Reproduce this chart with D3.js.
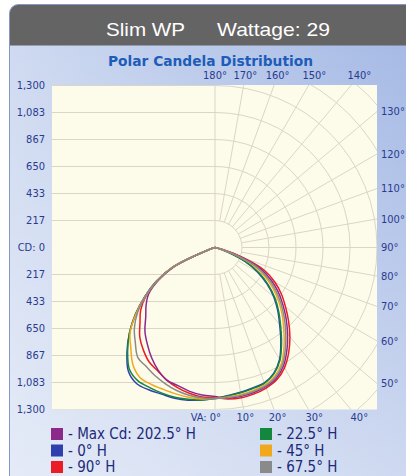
<!DOCTYPE html>
<html><head><meta charset="utf-8">
<script src="https://cdn.jsdelivr.net/npm/d3@7"></script>
<style>html,body{margin:0;padding:0;background:#fff;}svg{display:block}</style>
</head><body>
<svg id="chart" width="406" height="476"></svg>
<script>
// ---------------- DATA ----------------
const headerProduct = "Slim WP";
const headerWattage = "Wattage: 29";
const chartTitle = "Polar Candela Distribution";

// vertical angles (degrees from nadir) at which candela values are given
const VA = [0,5,10,15,20,25,30,35,40,45,50,55,60,65,70,75,80];

// candela values, left half (opposite horizontal plane) and right half
const maxCdLeft   = [1196,1188,1172,1148,1132,1083,1019,947,875,786,722,650,522,361,64,0,0];
const maxCdRight  = [1196,1213,1213,1205,1189,1159,1098,1006,906,807,710,618,518,401,210,55,0];
const h0Left      = [1212,1228,1244,1252,1252,1260,1260,1212,1099,971,835,690,546,377,64,0,0];
const h0Right     = [1212,1193,1180,1167,1156,1114,1036,921,807,711,615,509,395,265,108,20,0];
const h90Left     = [1204,1204,1188,1164,1132,1091,1059,1003,939,851,778,674,530,369,64,0,0];
const h90Right    = [1204,1220,1224,1216,1200,1172,1115,1031,935,835,738,650,554,441,241,64,0];
const h225Left    = [1212,1228,1236,1244,1244,1240,1236,1196,1091,971,827,682,546,377,64,0,0];
const h225Right   = [1212,1196,1184,1172,1160,1119,1043,931,819,722,626,522,409,281,120,24,0];
const h45Left     = [1212,1220,1220,1216,1212,1212,1204,1148,1051,963,827,682,538,377,64,0,0];
const h45Right    = [1212,1204,1198,1187,1174,1138,1069,966,859,762,665,567,460,337,163,38,0];
const h675Left    = [1212,1212,1204,1188,1164,1136,1103,1079,995,915,811,682,538,369,64,0,0];
const h675Right   = [1212,1209,1205,1196,1182,1148,1083,986,883,784,688,592,489,369,187,46,0];

const legendLabels = ["- Max Cd: 202.5° H","- 0° H","- 90° H","- 22.5° H","- 45° H","- 67.5° H"];

// axis ticks
const cdTickValues = [1300,1083,867,650,433,217,0,-217,-433,-650,-867,-1083,-1300];
const cdTickLabels = ["1,300","1,083","867","650","433","217","CD: 0","217","433","650","867","1,083","1,300"];
const topAngles = [180,170,160,150,140];
const rightAngles = [130,120,110,100,90,80,70,60,50];
const bottomAngles = [0,10,20,30,40];
const gridAngles = d3.range(10,180,10);
const ringValues = d3.range(1,10).map(k => k*1300/6);

// ---------------- LAYOUT / STYLE ----------------
const seriesColors = ["#8c2a8c","#2f40ad","#ec1c24","#13873e","#f2a81d","#8a8a8a"];
const W = 406, H = 476;
const cx = 215, cy = 247.5, R = 162;
const plot = {x0:52, x1:377, y0:85, y1:409.5};
const labelFont = "'DejaVu Sans Condensed','DejaVu Sans',sans-serif";
const axisColor = "#2a3a8e";

const svg = d3.select("#chart");
const defs = svg.append("defs");

const g1 = defs.append("linearGradient").attr("id","panelH").attr("x1",0).attr("y1",0).attr("x2",1).attr("y2",0);
g1.append("stop").attr("offset","0%").attr("stop-color","#d0dbf1");
g1.append("stop").attr("offset","100%").attr("stop-color","#a6bae5");
const g2 = defs.append("linearGradient").attr("id","panelV").attr("x1",0).attr("y1",0).attr("x2",0).attr("y2",1);
g2.append("stop").attr("offset","0%").attr("stop-color","#ffffff").attr("stop-opacity",0);
g2.append("stop").attr("offset","100%").attr("stop-color","#ffffff").attr("stop-opacity",0.45);

defs.append("clipPath").attr("id","panelClip")
  .append("rect").attr("x",9.5).attr("y",4.5).attr("width",420).attr("height",520).attr("rx",9);
defs.append("clipPath").attr("id","plotClip")
  .append("rect").attr("x",plot.x0).attr("y",plot.y0).attr("width",plot.x1-plot.x0).attr("height",plot.y1-plot.y0);

const panel = svg.append("g").attr("clip-path","url(#panelClip)");
panel.append("rect").attr("x",0).attr("y",0).attr("width",W).attr("height",H).attr("fill","url(#panelH)");
panel.append("rect").attr("x",0).attr("y",45).attr("width",W).attr("height",H-45).attr("fill","url(#panelV)");
panel.append("rect").attr("x",0).attr("y",0).attr("width",W).attr("height",45.5).attr("fill","#646464");
svg.append("rect").attr("x",9.5).attr("y",4.5).attr("width",420).attr("height",520).attr("rx",9)
  .attr("fill","none").attr("stroke","#8397c9").attr("stroke-width",1);

// header
svg.append("text").attr("x",106).attr("y",36).attr("fill","#fff")
  .style("font-family","'Liberation Sans',Arial,sans-serif").style("font-size","19px")
  .attr("textLength",79).attr("lengthAdjust","spacingAndGlyphs").text(headerProduct);
svg.append("text").attr("x",217).attr("y",36).attr("fill","#fff")
  .style("font-family","'Liberation Sans',Arial,sans-serif").style("font-size","19px")
  .attr("textLength",113).attr("lengthAdjust","spacingAndGlyphs").text(headerWattage);

// title
svg.append("text").attr("x",108).attr("y",66).attr("fill","#1d5cb8")
  .style("font-family",labelFont).style("font-stretch","condensed").style("font-weight","bold").style("font-size","14.5px")
  .attr("textLength",205).attr("lengthAdjust","spacingAndGlyphs")
  .text(chartTitle);

// plot area
svg.append("rect").attr("x",plot.x0).attr("y",plot.y0).attr("width",plot.x1-plot.x0).attr("height",plot.y1-plot.y0)
  .attr("fill","#fdfbea");

const rScale = d3.scaleLinear().domain([0,1300]).range([0,R]);
const rad = a => a*Math.PI/180;

const grid = svg.append("g").attr("clip-path","url(#plotClip)")
  .attr("stroke","#d9d6c6").attr("stroke-width",1).attr("fill","none");
// left half: horizontal lines
ringValues.slice(0,6).forEach(v => {
  [-1,1].forEach(s => {
    grid.append("line").attr("x1",plot.x0).attr("x2",cx)
      .attr("y1",cy + s*rScale(v)).attr("y2",cy + s*rScale(v));
  });
});
grid.append("line").attr("x1",cx).attr("x2",cx).attr("y1",plot.y0).attr("y2",plot.y1);
// right half: semicircles
ringValues.forEach(v => {
  const rr = rScale(v);
  grid.append("path").attr("d",`M${cx},${cy-rr}A${rr},${rr} 0 0 1 ${cx},${cy+rr}`);
});
// radial lines
gridAngles.forEach(a => {
  const r1 = rScale(ringValues[0]), r2 = 400;
  grid.append("line")
    .attr("x1",cx + r1*Math.sin(rad(a))).attr("y1",cy + r1*Math.cos(rad(a)))
    .attr("x2",cx + r2*Math.sin(rad(a))).attr("y2",cy + r2*Math.cos(rad(a)));
});

// axis labels
const lab = svg.append("g").attr("fill",axisColor)
  .style("font-family",labelFont).style("font-stretch","condensed").style("font-size","11px");
cdTickValues.forEach((v,i) => {
  lab.append("text").attr("x",45).attr("y",cy - Math.sign(v)*rScale(Math.abs(v)))
    .attr("dy","0.35em").attr("text-anchor","end").text(cdTickLabels[i]);
});
topAngles.forEach(a => {
  const t = 172/(-Math.cos(rad(a)));
  lab.append("text").attr("x",cx + t*Math.sin(rad(a))).attr("y",cy-172).attr("dy","0.35em")
    .attr("text-anchor","middle").text(a+"°");
});
rightAngles.forEach(a => {
  const t = (plot.x1-cx)/Math.sin(rad(a));
  lab.append("text").attr("x",381).attr("y",cy + t*Math.cos(rad(a))).attr("dy","0.35em")
    .attr("text-anchor","start").text(a+"°");
});
bottomAngles.forEach(a => {
  const x = cx + 172*Math.tan(rad(a));
  lab.append("text").attr("x",a===0 ? cx+6 : x).attr("y",cy+170).attr("dy","0.35em")
    .attr("text-anchor",a===0 ? "end" : "middle").text(a===0 ? "VA: 0°" : a+"°");
});

// curves
const series = [
  {left:h0Left, right:h0Right, color:seriesColors[1]},
  {left:h225Left, right:h225Right, color:seriesColors[3]},
  {left:h90Left, right:h90Right, color:seriesColors[2]},
  {left:maxCdLeft, right:maxCdRight, color:seriesColors[0]},
  {left:h45Left, right:h45Right, color:seriesColors[4]},
  {left:h675Left, right:h675Right, color:seriesColors[5]}
];
const line = d3.line().curve(d3.curveCatmullRom.alpha(0.5));
const curves = svg.append("g").attr("clip-path","url(#plotClip)");
series.forEach(s => {
  const pts = [];
  for (let i = VA.length-1; i >= 0; i--) {
    const r = rScale(s.left[i]);
    pts.push([cx - r*Math.sin(rad(VA[i])), cy + r*Math.cos(rad(VA[i]))]);
  }
  for (let i = 1; i < VA.length; i++) {
    const r = rScale(s.right[i]);
    pts.push([cx + r*Math.sin(rad(VA[i])), cy + r*Math.cos(rad(VA[i]))]);
  }
  const clean = pts.filter((p,i) => i===0 || Math.hypot(p[0]-pts[i-1][0], p[1]-pts[i-1][1]) > 0.01);
  curves.append("path").attr("d",line(clean)).attr("fill","none")
    .attr("stroke",s.color).attr("stroke-width",1.5).attr("stroke-linejoin","round");
});

// legend
const legendOrder = [0,1,2,3,4,5];
const leg = svg.append("g").style("font-family",labelFont).style("font-stretch","condensed").style("font-size","15px");
legendOrder.forEach((k,i) => {
  const col = Math.floor(i/3), row = i%3;
  const x = col===0 ? 51 : 260, y = 434 + row*16.5;
  leg.append("rect").attr("x",x).attr("y",y-6).attr("width",12).attr("height",12).attr("fill",seriesColors[k]);
  leg.append("text").attr("x",x+17).attr("y",y).attr("dy","0.35em").attr("fill","#1c2a7a").text(legendLabels[k]);
});
</script>
</body></html>
